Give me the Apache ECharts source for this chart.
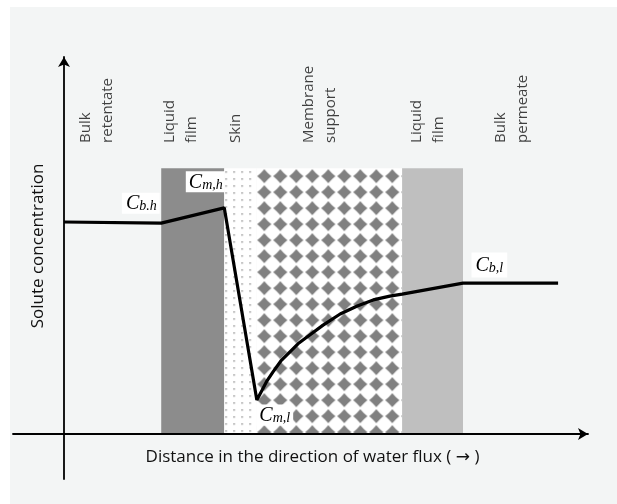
<!DOCTYPE html>
<html><head><meta charset="utf-8">
<script src="https://cdn.jsdelivr.net/npm/echarts@6/dist/echarts.min.js"></script>
<style>html,body{margin:0;padding:0;background:#fff}#c{width:617px;height:504px}</style>
</head><body><div id="c"></div>
<script>
// Solute concentration profile (x: distance units, y: concentration units)
const profileX = [0, 18.2, 30.0, 36.1, 37.1, 38.0, 39.1, 40.6, 42.3, 43.8, 45.5, 48.5, 51.7, 54.9, 57.9, 61.0, 63.3, 74.7, 92.5];
const profileY = [55.5, 55.2, 59.2, 8.9, 11.5, 13.9, 16.2, 19.1, 21.5, 23.6, 25.4, 28.5, 31.4, 33.5, 35.1, 36.1, 36.6, 39.5, 39.5];

// Point annotations (index into the profile)
const pointLabelIdx = [1, 2, 3, 17];
const pointLabelMain = ['C', 'C', 'C', 'C'];
const pointLabelSub = ['b.h', 'm,h', 'm,l', 'b,l'];

// Layers of the membrane system
const layerKinds = ['film-dark', 'skin', 'support', 'film-light'];
const layerStart = [18.2, 30.0, 36.0, 63.3];
const layerEnd = [30.0, 36.0, 63.3, 74.7];
const layerTop = 69.6;

// Layer captions
const captionNames = ['Bulk\nretentate', 'Liquid\nfilm', 'Skin', 'Membrane\nsupport', 'Liquid\nfilm', 'Bulk\npermeate'];
const captionX = [6.2, 21.8, 32.2, 47.9, 68.1, 83.8];
const captionBase = 76.2;

const xTitle = 'Distance in the direction of water flux ( \u2192 )';
const yTitle = 'Solute concentration';

// ---------- styles ----------
const UI_FONT = '"Open Sans", "DejaVu Sans", sans-serif';
const MATH_FONT = '"Liberation Serif", "DejaVu Serif", serif';

function diamondTile() {
  const c = document.createElement('canvas'); c.width = 16; c.height = 16;
  const g = c.getContext('2d');
  g.fillStyle = '#ffffff'; g.fillRect(0, 0, 16, 16);
  g.fillStyle = '#808080';
  const cx = 8, cy = 8, r = 7.1, k = 3.2;
  g.beginPath();
  g.moveTo(cx, cy - r);
  g.quadraticCurveTo(cx + k, cy - k, cx + r, cy);
  g.quadraticCurveTo(cx + k, cy + k, cx, cy + r);
  g.quadraticCurveTo(cx - k, cy + k, cx - r, cy);
  g.quadraticCurveTo(cx - k, cy - k, cx, cy - r);
  g.fill();
  return c;
}
function dotTile() {
  const c = document.createElement('canvas'); c.width = 8; c.height = 7;
  const g = c.getContext('2d');
  g.fillStyle = '#ffffff'; g.fillRect(0, 0, 8, 7);
  g.fillStyle = '#a0a0a0';
  g.fillRect(1, 3, 1.6, 1.6);
  return c;
}
const diamondImg = diamondTile();
const dotImg = dotTile();

function fillFor(kind, ox, oy) {
  if (kind === 'film-dark') return '#8c8c8c';
  if (kind === 'film-light') return '#bfbfbf';
  if (kind === 'skin') return { image: dotImg, repeat: 'repeat', x: ox, y: oy };
  return { image: diamondImg, repeat: 'repeat', x: ox, y: oy };
}

const labelPlacement = [
  { position: [0, 0], align: 'right', verticalAlign: 'bottom', offset: [-1, -9], padding: [0, 3, 0, 4] },
  { position: [0, 0], align: 'right', verticalAlign: 'bottom', offset: [1, -15], padding: [0, 2, 0, 3] },
  { position: [0, 0], align: 'left', verticalAlign: 'top', offset: [0, 5], padding: [0, 3, 0, 3] },
  { position: [0, 0], align: 'left', verticalAlign: 'bottom', offset: [9, -5], padding: [2, 4, 2, 4] }
];

const lineData = profileX.map((x, i) => {
  const item = { value: [x, profileY[i]] };
  const k = pointLabelIdx.indexOf(i);
  if (k >= 0) {
    item.label = Object.assign({
      show: true,
      formatter: '{c|' + pointLabelMain[k] + '}{s|' + pointLabelSub[k] + '}',
      backgroundColor: '#ffffff',
      color: '#000'
    }, labelPlacement[k]);
  }
  return item;
});

const chart = echarts.init(document.getElementById('c'), null, { renderer: 'canvas' });

function buildOption(offsets) {
  return {
    backgroundColor: '#ffffff',
    animation: false,
    graphic: [{
      type: 'rect', z: -10, silent: true,
      shape: { x: 10, y: 7, width: 607, height: 497 },
      style: { fill: '#f3f5f5' }
    }],
    grid: { left: 13, right: 29, top: 57, bottom: 25, containLabel: false, outerBoundsMode: 'none' },
    xAxis: {
      type: 'value', min: -9.55, max: 98.1, z: 5,
      axisLine: { show: true, onZero: true, symbol: ['none', 'arrow'], symbolSize: [9, 10],
        lineStyle: { color: '#000', width: 1.8 } },
      axisTick: { show: false }, axisLabel: { show: false }, splitLine: { show: false },
      name: xTitle, nameLocation: 'middle', nameGap: -30, nameMoveOverlap: false,
      nameTextStyle: { fontFamily: UI_FONT, fontSize: 17, color: '#111', padding: [0, 0, 0, 24] }
    },
    yAxis: {
      type: 'value', min: -11.8, max: 98.7, z: 5,
      axisLine: { show: true, onZero: true, symbol: ['none', 'arrow'], symbolSize: [9, 10],
        lineStyle: { color: '#000', width: 1.8 } },
      axisTick: { show: false }, axisLabel: { show: false }, splitLine: { show: false },
      name: yTitle, nameLocation: 'middle', nameGap: -34, nameMoveOverlap: false,
      nameTextStyle: { fontFamily: UI_FONT, fontSize: 17, color: '#111', padding: [0, 0, 0, 44] }
    },
    series: [
      {
        type: 'line', name: 'profile', data: lineData, z: 3,
        symbol: 'circle', symbolSize: 1, showSymbol: true,
        itemStyle: { color: 'rgba(0,0,0,0)' },
        lineStyle: { color: '#000', width: 3.2 },
        emphasis: { disabled: true },
        label: {
          show: false,
          rich: {
            c: { fontFamily: MATH_FONT, fontStyle: 'italic', fontSize: 20, color: '#000', verticalAlign: 'bottom', lineHeight: 21 },
            s: { fontFamily: MATH_FONT, fontStyle: 'italic', fontSize: 14, color: '#000', verticalAlign: 'bottom', lineHeight: 21 }
          }
        },
        markArea: {
          silent: true,
          label: { show: false },
          data: layerKinds.map((kind, i) => [
            { xAxis: layerStart[i], yAxis: 0, itemStyle: { color: fillFor(kind, offsets[i][0], offsets[i][1]), borderWidth: 0 } },
            { xAxis: layerEnd[i], yAxis: layerTop }
          ])
        }
      },
      {
        type: 'scatter', name: 'captions', symbolSize: 0, z: 4,
        emphasis: { disabled: true },
        data: captionNames.map((n, i) => ({ name: n, value: [captionX[i], captionBase] })),
        label: {
          show: true, position: 'inside', rotate: 90, align: 'left', verticalAlign: 'middle',
          formatter: p => p.name,
          fontFamily: UI_FONT, fontSize: 15, lineHeight: 22, color: '#111'
        }
      }
    ]
  };
}

chart.setOption(buildOption(layerKinds.map(() => [0, 0])));
const offsets = layerKinds.map((k, i) => chart.convertToPixel({ xAxisIndex: 0, yAxisIndex: 0 }, [layerStart[i], layerTop]));
chart.setOption(buildOption(offsets));
</script>
</body></html>
